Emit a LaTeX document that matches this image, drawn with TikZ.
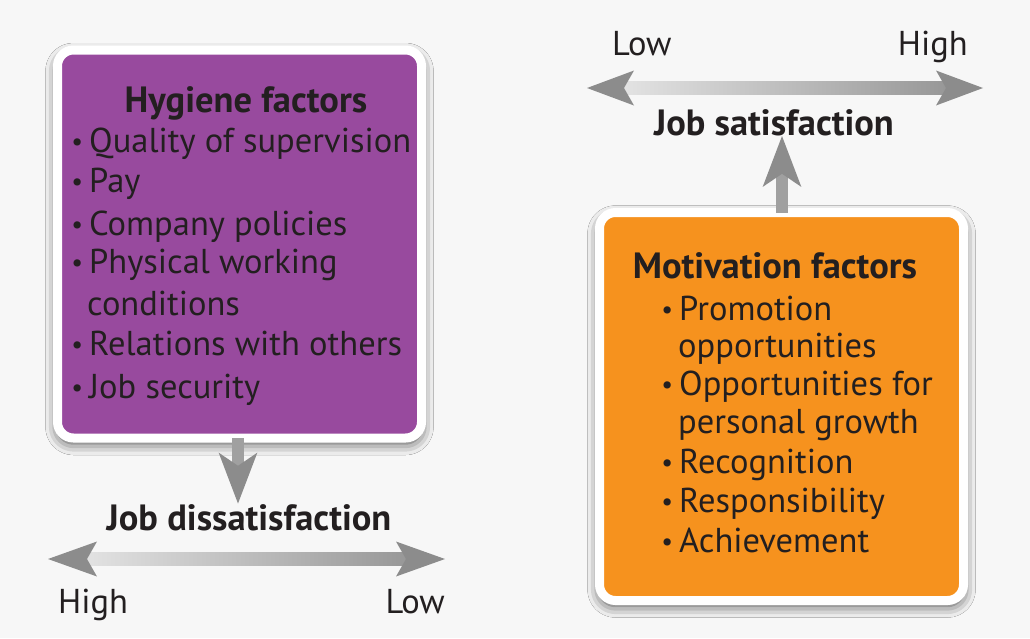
\documentclass[tikz,border=0pt]{standalone}
\usepackage{fontspec}
\setmainfont{PT Sans}
\usetikzlibrary{shadows.blur,calc,arrows.meta}
\definecolor{bg}{RGB}{247,247,247}
\definecolor{purp}{RGB}{152,74,158}
\definecolor{orng}{RGB}{246,146,30}
\definecolor{ink}{RGB}{35,31,32}
\definecolor{headgray}{RGB}{140,140,140}
\definecolor{shaftgray}{RGB}{160,160,160}
\definecolor{lightshaft}{RGB}{228,228,228}
\definecolor{darkshaft}{RGB}{150,150,150}
\newcommand{\bul}{\makebox[24pt][c]{\fontsize{26}{26}\selectfont\raisebox{2pt}{•}}}
\begin{document}
\begin{tikzpicture}[x=1pt,y=-1pt,
  txt/.style={font=\fontsize{34.5}{40}\selectfont, text=ink, inner sep=0pt, anchor=base west},
  txtr/.style={txt, anchor=base east},
  ttl/.style={font=\bfseries\fontsize{36.5}{42}\selectfont, text=ink, inner sep=0pt, anchor=base},
  factorbox/.style={draw=white, line width=9pt, rounded corners=16pt,
    minimum width=364pt, minimum height=388pt, inner sep=0pt, outer sep=0pt,
    blur shadow={shadow xshift=0pt, shadow yshift=-5pt, shadow blur radius=12pt, shadow opacity=75}},
  vert/.style={draw=shaftgray, line width=12pt,
    -{Stealth[length=50pt, width=37pt, inset=12pt, color=headgray]}},
  arrowhead/.style={fill=headgray},
]
\fill[bg] (0,0) rectangle (1030,638);
\useasboundingbox (0,0) rectangle (1030,638);

% ---------- boxes ----------
\node[factorbox, fill=purp] (hyg) at (239.5,244) {};
\node[factorbox, fill=orng] (mot) at (781.5,406.5) {};

% ---------- hygiene text ----------
\node[ttl] (hygT) at (246,112) {Hygiene factors};
\node[txt] (h1) at (65,152) {\bul Quality of supervision};
\node[txt] (h2) at (65,192) {\bul Pay};
\node[txt] (h3) at (65,235) {\bul Company policies};
\node[txt] (h4) at (65,273) {\bul Physical working};
\node[txt] (h4b) at (87,315) {conditions};
\node[txt] (h5) at (65,355) {\bul Relations with others};
\node[txt] (h6) at (65,398) {\bul Job security};

% ---------- motivation text ----------
\node[ttl] (motT) at (775,278) {Motivation factors};
\node[txt] (m1) at (655,320) {\bul Promotion};
\node[txt] (m1b) at (678,357) {opportunities};
\node[txt] (m2) at (655,395) {\bul Opportunities for};
\node[txt] (m2b) at (678,433) {personal growth};
\node[txt] (m3) at (655,473) {\bul Recognition};
\node[txt] (m4) at (655,512) {\bul Responsibility};
\node[txt] (m5) at (655,552) {\bul Achievement};

% ---------- labels ----------
\node[ttl] (dis) at (249,530) {Job dissatisfaction};
\node[ttl] (sat) at (774,135) {Job satisfaction};
\node[txt] (tlow) at (612,55) {Low};
\node[txtr] (thigh) at (968,55) {High};
\node[txt] (bhigh) at (58,613) {High};
\node[txtr] (blow) at (445,613) {Low};

% ---------- vertical arrows ----------
\coordinate (dax) at (238,0);
\coordinate (uax) at (782,0);
\draw[vert] (hyg.south -| dax) -- (dis.north -| dax);
\draw[vert] (mot.north -| uax) -- (sat.south -| uax);

% ---------- top double arrow ----------
\coordinate (tL) at (587,88);
\coordinate (tR) at (983,88);
\shade[left color=lightshaft, right color=darkshaft] ($(tL)+(30,-6.5)$) rectangle ($(tR)+(-30,6.5)$);
\fill[arrowhead] (tL) -- ++(47,-17.5) -- ++(-10,17.5) -- ++(10,17.5) -- cycle;
\fill[arrowhead] (tR) -- ++(-47,-17.5) -- ++(10,17.5) -- ++(-10,17.5) -- cycle;

% ---------- bottom double arrow ----------
\coordinate (bL) at (48,559);
\coordinate (bR) at (445,559);
\shade[left color=lightshaft, right color=darkshaft] ($(bL)+(30,-6.5)$) rectangle ($(bR)+(-30,6.5)$);
\fill[arrowhead] (bL) -- ++(49,-17.5) -- ++(-10,17.5) -- ++(10,17.5) -- cycle;
\fill[arrowhead] (bR) -- ++(-49,-17.5) -- ++(10,17.5) -- ++(-10,17.5) -- cycle;
\end{tikzpicture}
\end{document}
